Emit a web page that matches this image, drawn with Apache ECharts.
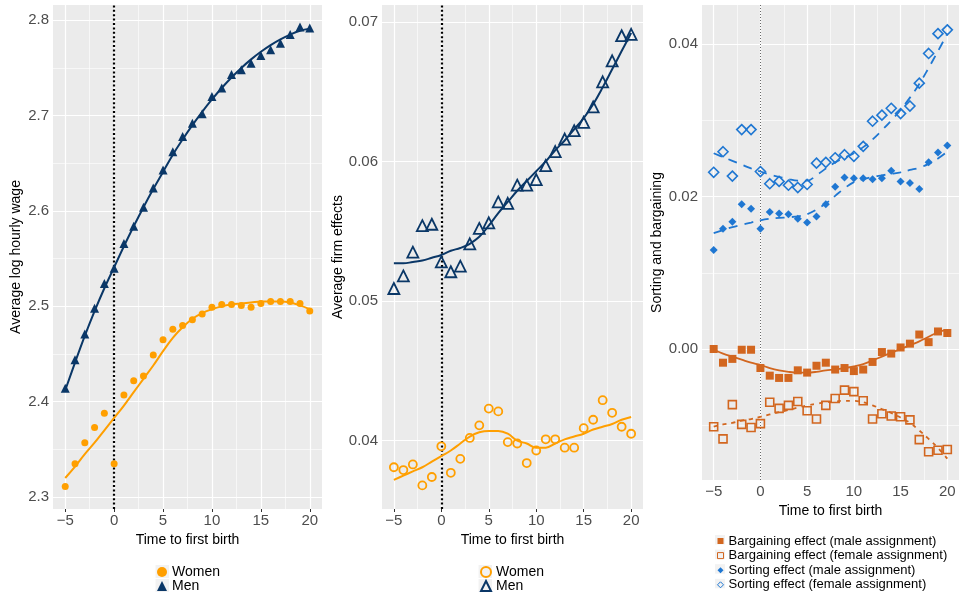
<!DOCTYPE html>
<html>
<head>
<meta charset="utf-8">
<script src="https://cdn.jsdelivr.net/npm/echarts@6/dist/echarts.min.js"></script>
<style>
  html, body { margin: 0; padding: 0; background: #fff; }
  #chart { width: 959px; height: 595px; }
</style>
</head>
<body>
<div id="chart"></div>
<script>
// Event time relative to first birth
const eventTime = [-5, -4, -3, -2, -1, 0, 1, 2, 3, 4, 5, 6, 7, 8, 9, 10, 11, 12, 13, 14, 15, 16, 17, 18, 19, 20];

// Panel 1: average log hourly wage
const wageWomen = [2.311, 2.335, 2.357, 2.373, 2.388, 2.335, 2.407, 2.422, 2.427, 2.449, 2.465, 2.476, 2.480, 2.486, 2.492, 2.499, 2.502, 2.502, 2.501, 2.499, 2.503, 2.505, 2.505, 2.505, 2.503, 2.495];
const wageMen = [2.414, 2.444, 2.471, 2.498, 2.524, 2.540, 2.566, 2.584, 2.604, 2.624, 2.643, 2.662, 2.678, 2.692, 2.702, 2.720, 2.729, 2.743, 2.748, 2.755, 2.763, 2.769, 2.776, 2.785, 2.793, 2.792];
const wageWomenFit = [2.320, 2.332, 2.345, 2.357, 2.370, 2.383, 2.396, 2.410, 2.424, 2.438, 2.453, 2.467, 2.478, 2.487, 2.493, 2.497, 2.500, 2.502, 2.503, 2.504, 2.505, 2.505, 2.505, 2.504, 2.501, 2.497];
const wageMenFit = [2.412, 2.441, 2.469, 2.495, 2.519, 2.541, 2.563, 2.584, 2.604, 2.623, 2.641, 2.659, 2.675, 2.690, 2.704, 2.717, 2.729, 2.740, 2.750, 2.759, 2.767, 2.774, 2.780, 2.785, 2.789, 2.791];

// Panel 2: average firm effects
const firmWomen = [0.0381, 0.0379, 0.0383, 0.0368, 0.0374, 0.0396, 0.0377, 0.0387, 0.0402, 0.0411, 0.0423, 0.0421, 0.0399, 0.0398, 0.0384, 0.0393, 0.0401, 0.0401, 0.0395, 0.0395, 0.0409, 0.0415, 0.0429, 0.0420, 0.0410, 0.0405];
const firmMen = [0.0509, 0.0518, 0.0535, 0.0554, 0.0555, 0.0528, 0.0521, 0.0525, 0.0541, 0.0552, 0.0556, 0.0571, 0.0570, 0.0583, 0.0583, 0.0587, 0.0597, 0.0607, 0.0616, 0.0622, 0.0628, 0.0639, 0.0657, 0.0672, 0.0690, 0.0691];
const firmWomenFit = [0.0372, 0.0375, 0.0378, 0.0381, 0.0385, 0.0389, 0.0393, 0.0398, 0.0403, 0.0406, 0.0407, 0.0407, 0.0405, 0.0400, 0.0398, 0.0395, 0.0395, 0.0398, 0.0401, 0.0403, 0.0405, 0.0408, 0.0410, 0.0412, 0.0415, 0.0417];
const firmMenFit = [0.0527, 0.0527, 0.0528, 0.0529, 0.0531, 0.0533, 0.0536, 0.0538, 0.0541, 0.0546, 0.0554, 0.0563, 0.0571, 0.0579, 0.0586, 0.0593, 0.0600, 0.0608, 0.0615, 0.0623, 0.0631, 0.0641, 0.0653, 0.0666, 0.0679, 0.0692];

// Panel 3: sorting and bargaining decomposition
const bargMale = [0.0000, -0.0018, -0.0013, -0.0001, -0.0001, -0.0025, -0.0035, -0.0038, -0.0038, -0.0028, -0.0031, -0.0022, -0.0018, -0.0027, -0.0025, -0.0029, -0.0027, -0.0017, -0.0004, -0.0006, 0.0002, 0.0007, 0.0019, 0.0009, 0.0023, 0.0021];
const bargFemale = [-0.0102, -0.0118, -0.0073, -0.0099, -0.0103, -0.0098, -0.0070, -0.0078, -0.0074, -0.0069, -0.0081, -0.0092, -0.0074, -0.0065, -0.0054, -0.0056, -0.0068, -0.0092, -0.0085, -0.0088, -0.0089, -0.0093, -0.0119, -0.0135, -0.0133, -0.0132];
const sortMale = [0.0130, 0.0158, 0.0167, 0.0190, 0.0184, 0.0158, 0.0180, 0.0178, 0.0177, 0.0171, 0.0166, 0.0174, 0.0190, 0.0213, 0.0225, 0.0224, 0.0224, 0.0223, 0.0224, 0.0234, 0.0220, 0.0218, 0.0210, 0.0245, 0.0258, 0.0267];
const sortFemale = [0.0232, 0.0259, 0.0227, 0.0288, 0.0288, 0.0233, 0.0217, 0.0220, 0.0215, 0.0212, 0.0216, 0.0244, 0.0245, 0.0251, 0.0255, 0.0253, 0.0266, 0.0299, 0.0307, 0.0316, 0.0309, 0.0319, 0.0349, 0.0388, 0.0414, 0.0419];
const bargMaleFit = [-0.0001, -0.0006, -0.0010, -0.0014, -0.0018, -0.0021, -0.0025, -0.0028, -0.0030, -0.0031, -0.0031, -0.0030, -0.0028, -0.0027, -0.0025, -0.0023, -0.0020, -0.0015, -0.0010, -0.0005, 0.0000, 0.0005, 0.0010, 0.0016, 0.0022, 0.0025];
const bargFemaleFit = [-0.0102, -0.0099, -0.0097, -0.0094, -0.0092, -0.0089, -0.0086, -0.0083, -0.0080, -0.0077, -0.0074, -0.0072, -0.0070, -0.0069, -0.0068, -0.0068, -0.0070, -0.0074, -0.0079, -0.0084, -0.0090, -0.0097, -0.0107, -0.0118, -0.0130, -0.0144];
const sortMaleFit = [0.0152, 0.0156, 0.0160, 0.0163, 0.0166, 0.0169, 0.0171, 0.0172, 0.0173, 0.0174, 0.0177, 0.0183, 0.0191, 0.0201, 0.0211, 0.0219, 0.0223, 0.0226, 0.0228, 0.0230, 0.0232, 0.0235, 0.0238, 0.0243, 0.0250, 0.0259];
const sortFemaleFit = [0.0257, 0.0252, 0.0247, 0.0242, 0.0237, 0.0233, 0.0229, 0.0226, 0.0223, 0.0221, 0.0221, 0.0228, 0.0237, 0.0245, 0.0251, 0.0257, 0.0265, 0.0275, 0.0287, 0.0300, 0.0314, 0.0330, 0.0348, 0.0369, 0.0391, 0.0414];

// Tick and grid positions
const xTicks = [-5, 0, 5, 10, 15, 20];
const xMinor = [-2.5, 2.5, 7.5, 12.5, 17.5];
const wageTicks = [2.3, 2.4, 2.5, 2.6, 2.7, 2.8];
const wageMinor = [2.35, 2.45, 2.55, 2.65, 2.75];
const firmTicks = [0.04, 0.05, 0.06, 0.07];
const firmMinor = [0.045, 0.055, 0.065];
const sbTicks = [0.00, 0.02, 0.04];
const sbMinor = [-0.01, 0.01, 0.03];

const ORANGE = '#ff9f00';
const NAVY = '#0a3767';
const BROWN = '#d2661f';
const BLUE = '#1f77d2';
const KEY_BG = '#f2f2f2';
const FONT = 'Liberation Sans, Arial, sans-serif';

const pairs = (ys) => eventTime.map((t, i) => [t, ys[i]]);

function xAxisFor(gridIndex, nameGap) {
  return {
    gridIndex, type: 'value', min: -6.25, max: 21.25,
    name: 'Time to first birth', nameLocation: 'middle', nameGap,
    nameTextStyle: { color: '#000', fontSize: 14, fontFamily: FONT },
    axisLine: { show: false },
    axisTick: { show: true, length: 3, customValues: xTicks, lineStyle: { color: '#333', width: 1 } },
    axisLabel: { customValues: xTicks, margin: 4, color: '#4d4d4d', fontSize: 15, fontFamily: FONT,
      formatter: v => String(v).replace('-', '\u2212') },
    splitLine: { show: false }
  };
}
function yAxisFor(gridIndex, min, max, ticks, digits, name, nameGap) {
  return {
    gridIndex, type: 'value', min, max,
    name, nameLocation: 'middle', nameGap,
    nameTextStyle: { color: '#000', fontSize: 14, fontFamily: FONT },
    axisLine: { show: false },
    axisTick: { show: true, length: 3, customValues: ticks, lineStyle: { color: '#333', width: 1 } },
    axisLabel: { customValues: ticks, margin: 4, color: '#4d4d4d', fontSize: 15, fontFamily: FONT,
      formatter: v => Number(v).toFixed(digits) },
    splitLine: { show: false }
  };
}

// White panel grid lines (and the zero marker) drawn as a background layer
function gridSeries(idx, yMajor, yMinor, zeroStyle) {
  const data = [];
  xMinor.forEach(v => data.push({ xAxis: v, lineStyle: { color: '#fff', width: 0.6, type: 'solid' } }));
  yMinor.forEach(v => data.push({ yAxis: v, lineStyle: { color: '#fff', width: 0.6, type: 'solid' } }));
  xTicks.forEach(v => data.push({ xAxis: v, lineStyle: { color: '#fff', width: 1.2, type: 'solid' } }));
  yMajor.forEach(v => data.push({ yAxis: v, lineStyle: { color: '#fff', width: 1.2, type: 'solid' } }));
  data.push({ xAxis: 0, lineStyle: zeroStyle });
  return {
    type: 'scatter', xAxisIndex: idx, yAxisIndex: idx, data: [], z: 1, silent: true,
    markLine: { z: 1, silent: true, symbol: ['none', 'none'], label: { show: false }, animation: false, data }
  };
}
function fit(idx, name, ys, color, width, type) {
  return { type: 'line', name, xAxisIndex: idx, yAxisIndex: idx, data: pairs(ys), smooth: 0.4,
    showSymbol: false, symbol: 'none', z: 3, silent: true,
    lineStyle: { color, width, type } };
}
function pts(idx, name, ys, symbol, size, style) {
  return { type: 'scatter', name, xAxisIndex: idx, yAxisIndex: idx, data: pairs(ys), symbol, symbolSize: size,
    z: 4, silent: true, itemStyle: Object.assign({ opacity: 1 }, style) };
}

// Light key backgrounds behind the legend symbols
function keyBoxes(x, y0, size, step, n) {
  const out = [];
  for (let i = 0; i < n; i++) {
    out.push({ type: 'rect', silent: true, z: 0,
      shape: { x, y: y0 + i * step, width: size, height: size - 0.5 },
      style: { fill: KEY_BG } });
  }
  return out;
}

const thickDots = { color: '#000', width: 2.2, type: [2, 2.4], cap: 'butt' };
const thinDots = { color: '#444', width: 0.8, type: [1, 2], cap: 'butt' };

const chart = echarts.init(document.getElementById('chart'), null, { renderer: 'canvas' });
chart.setOption({
  animation: false,
  backgroundColor: '#fff',
  textStyle: { fontFamily: FONT },
  graphic: [].concat(
    keyBoxes(155.5, 565, 13.5, 14, 2),
    keyBoxes(478.5, 565, 13.5, 14, 2),
    keyBoxes(715, 535, 10, 14.6, 4)
  ),
  grid: [
    { left: 53, top: 5, width: 269, height: 504, show: true, backgroundColor: '#ebebeb', borderWidth: 0 },
    { left: 382, top: 5, width: 261, height: 504, show: true, backgroundColor: '#ebebeb', borderWidth: 0 },
    { left: 702, top: 5, width: 261, height: 475, show: true, backgroundColor: '#ebebeb', borderWidth: 0 }
  ],
  xAxis: [xAxisFor(0, 17), xAxisFor(1, 17), xAxisFor(2, 18)],
  yAxis: [
    yAxisFor(0, 2.2875, 2.816, wageTicks, 1, 'Average log hourly wage', 30),
    yAxisFor(1, 0.03511, 0.0712, firmTicks, 2, 'Average firm effects', 37),
    yAxisFor(2, -0.0172, 0.04516, sbTicks, 2, 'Sorting and bargaining', 38)
  ],
  legend: [
    { left: 157, top: 565, orient: 'vertical', padding: 0, itemGap: 0, itemWidth: 10, itemHeight: 10,
      textStyle: { color: '#000', fontSize: 14, fontFamily: FONT },
      data: [
        { name: 'Women', icon: 'circle', itemStyle: { color: ORANGE, borderWidth: 0 } },
        { name: 'Men', icon: 'triangle', itemStyle: { color: NAVY, borderWidth: 0 } }
      ] },
    { left: 480, top: 565, orient: 'vertical', padding: 0, itemGap: 0, itemWidth: 10, itemHeight: 10,
      textStyle: { color: '#000', fontSize: 14, fontFamily: FONT },
      data: [
        { name: 'Women', icon: 'circle', itemStyle: { color: 'rgba(0,0,0,0)', borderColor: ORANGE, borderWidth: 2 } },
        { name: 'Men', icon: 'triangle', itemStyle: { color: 'rgba(0,0,0,0)', borderColor: NAVY, borderWidth: 2 } }
      ] },
    { left: 717, top: 534.5, orient: 'vertical', padding: 0, itemGap: 1.6, itemWidth: 6, itemHeight: 6,
      textStyle: { color: '#000', fontSize: 13, fontFamily: FONT },
      data: [
        { name: 'Bargaining effect (male assignment)', icon: 'rect', itemStyle: { color: BROWN, borderWidth: 0 } },
        { name: 'Bargaining effect (female assignment)', icon: 'rect', itemStyle: { color: 'rgba(0,0,0,0)', borderColor: BROWN, borderWidth: 1 } },
        { name: 'Sorting effect (male assignment)', icon: 'diamond', itemStyle: { color: BLUE, borderWidth: 0 } },
        { name: 'Sorting effect (female assignment)', icon: 'diamond', itemStyle: { color: 'rgba(0,0,0,0)', borderColor: BLUE, borderWidth: 1 } }
      ] }
  ],
  series: [
    gridSeries(0, wageTicks, wageMinor, thickDots),
    gridSeries(1, firmTicks, firmMinor, thickDots),
    gridSeries(2, sbTicks, sbMinor, thinDots),

    fit(0, 'Women fit', wageWomenFit, ORANGE, 2, 'solid'),
    fit(0, 'Men fit', wageMenFit, NAVY, 2, 'solid'),
    pts(0, 'Women', wageWomen, 'circle', 7, { color: ORANGE }),
    pts(0, 'Men', wageMen, 'triangle', 9, { color: NAVY }),

    fit(1, 'Women fit', firmWomenFit, ORANGE, 2, 'solid'),
    fit(1, 'Men fit', firmMenFit, NAVY, 2, 'solid'),
    pts(1, 'Women', firmWomen, 'circle', 8, { color: 'rgba(0,0,0,0)', borderColor: ORANGE, borderWidth: 1.8 }),
    pts(1, 'Men', firmMen, 'triangle', 11, { color: 'rgba(0,0,0,0)', borderColor: NAVY, borderWidth: 1.8 }),

    fit(2, 'Bargaining male fit', bargMaleFit, BROWN, 1.8, 'solid'),
    fit(2, 'Bargaining female fit', bargFemaleFit, BROWN, 1.8, [4, 5]),
    fit(2, 'Sorting male fit', sortMaleFit, BLUE, 1.8, [9, 7]),
    fit(2, 'Sorting female fit', sortFemaleFit, BLUE, 1.8, [9, 7]),
    pts(2, 'Bargaining effect (male assignment)', bargMale, 'rect', 8, { color: BROWN }),
    pts(2, 'Bargaining effect (female assignment)', bargFemale, 'rect', 8, { color: 'rgba(0,0,0,0)', borderColor: BROWN, borderWidth: 1.6 }),
    pts(2, 'Sorting effect (male assignment)', sortMale, 'diamond', 8, { color: BLUE }),
    pts(2, 'Sorting effect (female assignment)', sortFemale, 'diamond', 10, { color: 'rgba(0,0,0,0)', borderColor: BLUE, borderWidth: 1.6 })
  ]
});
</script>
</body>
</html>
